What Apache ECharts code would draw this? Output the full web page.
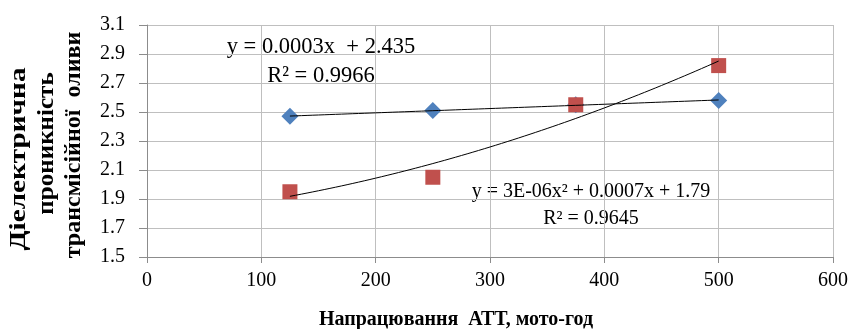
<!DOCTYPE html>
<html><head><meta charset="utf-8">
<script src="https://cdn.jsdelivr.net/npm/echarts@6/dist/echarts.min.js"></script>
<style>html,body{margin:0;padding:0;background:#fff}#c{width:853px;height:329px}</style>
</head><body><div id="c"></div>
<script>
// Data
const xValues = [125, 250, 375, 500];
const seriesBlue = [2.47, 2.51, 2.55, 2.58];
const seriesRed = [1.95, 2.05, 2.55, 2.82];
const eqBlue = ['y = 0.0003x  + 2.435', 'R² = 0.9966'];
const eqRed = ['y = 3E-06x² + 0.0007x + 1.79', 'R² = 0.9645'];
const xTitle = 'Напрацювання  АТТ, мото-год';
const yTitle = ['Діелектрична', 'проникність', 'трансмісійної  оливи'];

// least-squares polynomial fit (trendlines, like Excel)
function polyfit(xs, ys, deg) {
  const n = deg + 1;
  const A = [], b = [];
  for (let i = 0; i < n; i++) {
    A.push([]);
    for (let j = 0; j < n; j++) A[i].push(xs.reduce((s, x) => s + Math.pow(x, i + j), 0));
    b.push(xs.reduce((s, x, k) => s + Math.pow(x, i) * ys[k], 0));
  }
  for (let i = 0; i < n; i++) {
    let p = i;
    for (let r = i + 1; r < n; r++) if (Math.abs(A[r][i]) > Math.abs(A[p][i])) p = r;
    [A[i], A[p]] = [A[p], A[i]]; [b[i], b[p]] = [b[p], b[i]];
    for (let r = i + 1; r < n; r++) {
      const f = A[r][i] / A[i][i];
      for (let c = i; c < n; c++) A[r][c] -= f * A[i][c];
      b[r] -= f * b[i];
    }
  }
  const c = new Array(n).fill(0);
  for (let i = n - 1; i >= 0; i--) {
    let s = b[i];
    for (let j = i + 1; j < n; j++) s -= A[i][j] * c[j];
    c[i] = s / A[i][i];
  }
  return c;
}
function trend(coef) {
  const pts = [];
  const x0 = Math.min(...xValues), x1 = Math.max(...xValues);
  for (let x = x0; x <= x1 + 1e-9; x += 5) {
    pts.push([x, coef.reduce((s, c, i) => s + c * Math.pow(x, i), 0)]);
  }
  return pts;
}
const blueTrend = trend(polyfit(xValues, seriesBlue, 1));
const redTrend = trend(polyfit(xValues, seriesRed, 2));

const font = '"Liberation Serif", "Times New Roman", serif';
const chart = echarts.init(document.getElementById('c'), null, {renderer: 'canvas'});

function eqGraphic(lines, cx, top, w, h, size, lh) {
  return {
    type: 'group', z: 50,
    children: [
      {type: 'rect', shape: {x: cx - w / 2, y: top, width: w, height: h}, style: {fill: '#fff'}},
      {type: 'text', x: cx, y: top + h / 2, style: {text: lines.join('\n'), font: size + 'px ' + font, fill: '#000', align: 'center', verticalAlign: 'middle', lineHeight: lh}}
    ]
  };
}
const yTitleLayout = [{x: 19, y: 159, s: 1.27}, {x: 47, y: 143.5, s: 1.09}, {x: 74, y: 145, s: 1.045}];
const yTitleGraphics = yTitle.map((t, i) => ({
  type: 'text', x: yTitleLayout[i].x, y: yTitleLayout[i].y, rotation: Math.PI / 2, scaleX: yTitleLayout[i].s,
  style: {text: t, font: 'bold 23px ' + font, fill: '#000', align: 'center', verticalAlign: 'middle'}
}));

chart.setOption({
  animation: false,
  backgroundColor: '#fff',
  grid: {left: 147, right: 20, top: 25, bottom: 72, containLabel: false},
  xAxis: {
    type: 'value', min: 0, max: 600, interval: 100,
    axisLine: {show: true, onZero: false, lineStyle: {color: '#8c8c8c', width: 1}},
    axisTick: {show: true, length: 6, lineStyle: {color: '#8c8c8c'}},
    axisLabel: {color: '#000', fontFamily: font, fontSize: 20, margin: 14},
    splitLine: {show: true, lineStyle: {color: '#bfbfbf', width: 1}}
  },
  yAxis: {
    type: 'value', min: 1.5, max: 3.1, interval: 0.2,
    axisLine: {show: true, lineStyle: {color: '#8c8c8c', width: 1}},
    axisTick: {show: true, length: 8, lineStyle: {color: '#8c8c8c'}},
    axisLabel: {color: '#000', fontFamily: font, fontSize: 20, margin: 22, formatter: v => v.toFixed(1)},
    splitLine: {show: true, lineStyle: {color: '#bfbfbf', width: 1}}
  },
  series: [
    {type: 'scatter', data: xValues.map((x, i) => [x, seriesBlue[i]]), symbol: 'diamond', symbolSize: [17, 17], itemStyle: {color: '#4F81BD', opacity: 1}, z: 2},
    {type: 'scatter', data: xValues.map((x, i) => [x, seriesRed[i]]), symbol: 'rect', symbolSize: 15, itemStyle: {color: '#C0504D', opacity: 1}, z: 3},
    {type: 'line', data: blueTrend, showSymbol: false, symbol: 'none', lineStyle: {color: '#000', width: 1}, z: 4},
    {type: 'line', data: redTrend, showSymbol: false, symbol: 'none', smooth: false, lineStyle: {color: '#000', width: 1}, z: 4}
  ],
  graphic: [
    eqGraphic(eqBlue, 321, 33, 203, 58, 22.5, 29),
    eqGraphic(eqRed, 591, 175, 253, 60, 20, 27),
    {type: 'text', x: 456, y: 320, style: {text: xTitle, font: 'bold 20px ' + font, fill: '#000', align: 'center', verticalAlign: 'middle'}}
  ].concat(yTitleGraphics)
});
</script></body></html>
